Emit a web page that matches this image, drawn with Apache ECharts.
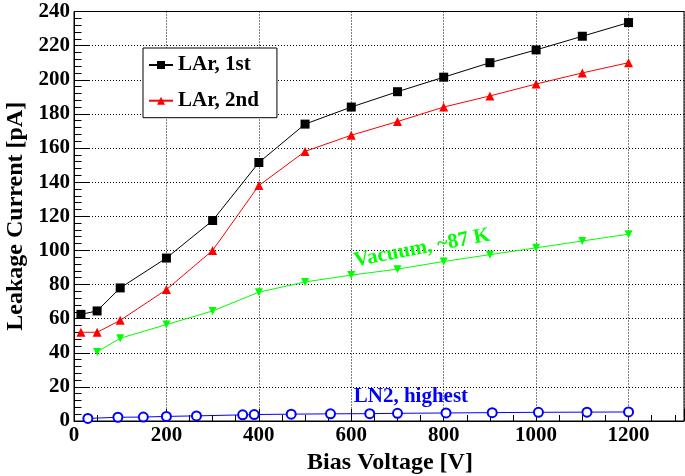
<!DOCTYPE html>
<html><head><meta charset="utf-8">
<script src="https://cdn.jsdelivr.net/npm/echarts@6/dist/echarts.min.js"></script>
<style>html,body{margin:0;padding:0;background:#fff}#c{width:685px;height:476px}</style>
</head><body><div id="c"></div>
<script>
// ---- data ----
const voltageLAr1 = [15, 50, 100, 200, 300, 400, 500, 600, 700, 800, 900, 1000, 1100, 1200];
const currentLAr1 = [62.5, 64.5, 78, 95.5, 117.5, 151.5, 174, 184, 193, 201.5, 210, 217.5, 225.5, 233.5];
const voltageLAr2 = [15, 50, 100, 200, 300, 400, 500, 600, 700, 800, 900, 1000, 1100, 1200];
const currentLAr2 = [52, 52, 59, 77, 100, 138, 158, 167.5, 175.5, 184, 190.5, 197.5, 204, 210];
const voltageVac = [50, 100, 200, 300, 400, 500, 600, 700, 800, 900, 1000, 1100, 1200];
const currentVac = [40.5, 48.5, 56.5, 64.5, 75.5, 81.5, 85.5, 89, 93.5, 97.5, 101.5, 105.5, 109.5];
const voltageLN2 = [30, 95, 150, 200, 265, 365, 390, 470, 555, 640, 700, 805, 905, 1005, 1110, 1200];
const currentLN2 = [1.5, 2.2, 2.3, 2.7, 3.0, 3.6, 3.8, 4.0, 4.2, 4.3, 4.5, 4.7, 4.9, 5.1, 5.2, 5.3];
const seriesNames = ['LAr, 1st', 'LAr, 2nd', 'Vacuum, ~87 K', 'LN2, highest'];
const xTitle = 'Bias Voltage [V]';
const yTitle = 'Leakage Current [pA]';
const xRange = [0, 1320];
const yRange = [0, 240];
// annotation anchor points in data coordinates
const vacLabelAt = [753, 101.3];
const ln2LabelAt = [729, 14.6];

const zip = (a, b) => a.map((v, i) => [v, b[i]]);
const FONT = 'Liberation Serif';

const chart = echarts.init(document.getElementById('c'), null, {renderer: 'canvas'});
const gridStyle = {type: [1, 2], color: '#000', width: 1};
const option = {
  animation: false,
  backgroundColor: '#fff',
  grid: {left: 74, right: 1, top: 11.5, bottom: 55, show: true, borderColor: '#000', borderWidth: 1,
    containLabel: false, outerBoundsMode: 'none'},
  legend: {
    data: [seriesNames[0], seriesNames[1]],
    orient: 'vertical', left: 143, top: 48,
    padding: [6.5, 18, 6.5, 5],
    itemWidth: 24, itemHeight: 10, itemGap: 14.7,
    borderColor: '#000', borderWidth: 1, backgroundColor: '#fff',
    textStyle: {fontFamily: FONT, fontWeight: 'bold', fontSize: 21, color: '#000', lineHeight: 21}
  },
  xAxis: [{
    type: 'value', min: xRange[0], max: xRange[1], interval: 200,
    name: xTitle, nameLocation: 'middle', nameGap: 26,
    nameTextStyle: {fontFamily: FONT, fontWeight: 'bold', fontSize: 24, color: '#000', padding: [0, 0, 0, 22]},
    axisLine: {show: true, lineStyle: {color: '#000', width: 1}},
    axisTick: {show: true, inside: true, length: 12, lineStyle: {color: '#000'}},
    axisLabel: {fontFamily: FONT, fontWeight: 'bold', fontSize: 21, color: '#000', margin: 4,
      formatter: v => (v % 200 === 0 ? String(v) : '')},
    splitLine: {show: true, lineStyle: gridStyle}
  }, {
    type: 'value', min: xRange[0], max: xRange[1], interval: 50, position: 'bottom',
    axisLine: {show: false},
    axisTick: {show: true, inside: true, length: 6, lineStyle: {color: '#000'}},
    axisLabel: {show: false}, splitLine: {show: false}
  }],
  yAxis: {
    type: 'value', min: yRange[0], max: yRange[1], interval: 20,
    name: yTitle, nameLocation: 'middle', nameGap: 46,
    nameTextStyle: {fontFamily: FONT, fontWeight: 'bold', fontSize: 24, color: '#000'},
    axisLine: {show: true, lineStyle: {color: '#000', width: 1}},
    axisTick: {show: true, inside: true, length: 15, lineStyle: {color: '#000'}},
    minorTick: {show: true, splitNumber: 5, length: 7.5, lineStyle: {color: '#000'}},
    axisLabel: {fontFamily: FONT, fontWeight: 'bold', fontSize: 21, color: '#000', margin: 4},
    splitLine: {show: true, lineStyle: gridStyle}
  },
  series: [
    {name: seriesNames[0], type: 'line', data: zip(voltageLAr1, currentLAr1), symbol: 'rect', symbolSize: 9,
      lineStyle: {color: '#000', width: 1}, itemStyle: {color: '#000'}, z: 5},
    {name: seriesNames[1], type: 'line', data: zip(voltageLAr2, currentLAr2), symbol: 'triangle', symbolSize: 9,
      lineStyle: {color: '#ff0000', width: 1}, itemStyle: {color: '#ff0000'}, z: 4},
    {name: seriesNames[2], type: 'line', data: zip(voltageVac, currentVac), symbol: 'triangle', symbolRotate: 180, symbolSize: 8,
      lineStyle: {color: '#00ff00', width: 1}, itemStyle: {color: '#00ff00'}, z: 3},
    {name: seriesNames[3], type: 'line', data: zip(voltageLN2, currentLN2), symbol: 'emptyCircle', symbolSize: 9,
      lineStyle: {color: '#0000ff', width: 1}, itemStyle: {color: '#0000ff', borderColor: '#0000ff', borderWidth: 1.5}, z: 2}
  ]
};
chart.setOption(option);

const p1 = chart.convertToPixel({xAxisIndex: 0, yAxisIndex: 0}, vacLabelAt);
const p2 = chart.convertToPixel({xAxisIndex: 0, yAxisIndex: 0}, ln2LabelAt);
chart.setOption({
  graphic: [
    {type: 'text', x: p1[0], y: p1[1], rotation: 0.19, z: 10,
      style: {text: seriesNames[2], fill: '#00ff00', font: 'bold 21px "Liberation Serif"', textAlign: 'center', textVerticalAlign: 'middle'}},
    {type: 'text', x: p2[0], y: p2[1], z: 10,
      style: {text: seriesNames[3], fill: '#0000ff', font: 'bold 21px "Liberation Serif"', textAlign: 'center', textVerticalAlign: 'middle'}}
  ]
});
</script></body></html>
